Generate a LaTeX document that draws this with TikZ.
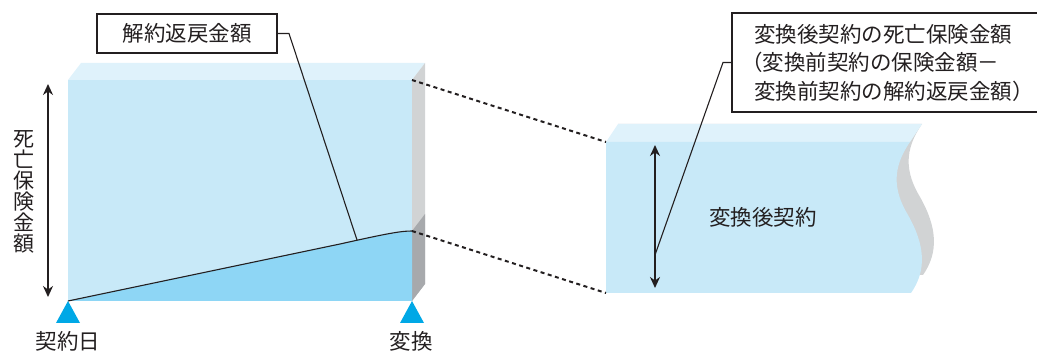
\documentclass[tikz,border=0pt]{standalone}
\usepackage{fontspec}
\setmainfont{Noto Sans CJK JP}
\usepackage{tikz}
\usetikzlibrary{arrows.meta}
\usetikzlibrary{calc}

\definecolor{face}{RGB}{200,233,248}
\definecolor{topf}{RGB}{223,242,251}
\definecolor{cv}{RGB}{142,214,245}
\definecolor{sidel}{RGB}{209,211,212}
\definecolor{sided}{RGB}{167,169,172}
\definecolor{mark}{RGB}{0,168,230}
\definecolor{ink}{RGB}{35,31,32}

\begin{document}
\begin{tikzpicture}[x=1pt,y=-1pt,>={Stealth[length=11pt,width=10pt]},
        dim/.style={<->,line width=2.2pt,draw=ink},
        lead/.style={line width=1.1pt,draw=ink},
        link/.style={line width=2pt,draw=ink,dash pattern=on 4pt off 3.5pt},
        lbl/.style={font=\fontsize{21.5}{21.5}\selectfont,text=ink,inner sep=0},
        tag/.style={draw=ink,line width=2pt,fill=white,font=\fontsize{21.5}{21.5}\selectfont,text=ink},
        tri/.style={fill=mark}]
        \useasboundingbox (0,0) rectangle (1037,352);
        \clip (0,0) rectangle (1037,352);
        % block before conversion
        \fill[topf] (68,80) -- (81,63) -- (425,63) -- (412,80) -- cycle;
        \fill[sidel] (412,80) -- (425,63) -- (425,284) -- (412,301) -- cycle;
        \fill[sided] (412,231) -- (425,214) -- (425,284) -- (412,301) -- cycle;
        \fill[face] (68,80) rectangle (412,301);
        \coordinate (s0) at (68,301);
        \coordinate (s1) at (412,231);
        \coordinate (hit) at (357,240);
        \fill[cv] (s0) -- (340,244) .. controls (385,234) and (400,231) .. (s1) -- (412,301) -- cycle;
        \draw[lead] (s0) -- (340,244) .. controls (385,234) and (400,231) .. (s1);
        % block after conversion
        \fill[sidel] (618,124) -- (922,124) .. controls (904,150) and (905,172) .. (920,197)
          .. controls (937,227) and (939,252) .. (923,275) -- (618,275) -- cycle;
        \fill[topf] (606,142) -- (618,124) -- (922,124) -- (910,142) -- cycle;
        \fill[face] (606,142) -- (910,142) .. controls (892,168) and (893,190) .. (908,215)
          .. controls (925,245) and (927,270) .. (911,293) -- (606,293) -- cycle;
        % dashed links
        \coordinate (t0) at (412,80);
        \coordinate (t1) at (606,142);
        \coordinate (b1) at (606,293);
        \draw[link] (t0) -- (t1);
        \draw[link] (s1) -- (b1);
        % markers
        \fill[tri] (68,301) -- (80,323) -- (56,323) -- cycle;
        \fill[tri] (412,301) -- (424,323) -- (400,323) -- cycle;
        \node[lbl] (start) at (68,341) {契約日};
        \node[lbl] (conv) at (411,341) {変換};
        % amounts
        \coordinate (a0) at (48,84);
        \coordinate (a1) at (48,297);
        \draw[dim] (a0) -- (a1);
        \node[lbl,align=center,font=\fontsize{21}{21}\selectfont] (death) at (24,192) {死\\亡\\保\\険\\金\\額};
        \coordinate (c0) at (655,145);
        \coordinate (c1) at (655,288);
        \coordinate (cm) at (655,255);
        \draw[dim] (c0) -- (c1);
        \node[lbl] (after) at (763,217) {変換後契約};
        % callouts
        \node[tag,minimum width=180,minimum height=39,inner sep=0] (sv) at (187,33.5) {解約返戻金額};
        \draw[lead] (sv.east) -- ++(11,0) -- (hit);
        \node[tag,anchor=west,minimum height=99,text width=300,inner xsep=22,inner ysep=0,align=left,
          font=\fontsize{21.5}{28.5}\selectfont] (note) at (731,62.5)
          {変換後契約の死亡保険金額\\\hspace*{-0.6em}（変換前契約の保険金額－\\変換前契約の解約返戻金額）};
        \draw[lead] (note.west) -- ++(-8,0) -- (cm);
      \end{tikzpicture}
\end{document}
